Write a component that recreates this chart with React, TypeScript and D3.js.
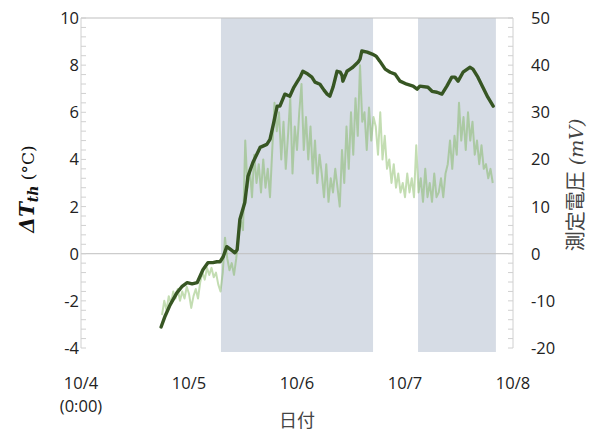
import React from "react";
import * as d3 from "d3";

// Chart frame
const W = 598;
const H = 432;

// Axis ticks and labels
const dayLabels = ["10/4", "10/5", "10/6", "10/7", "10/8"];
const leftTicks = [-4, -2, 0, 2, 4, 6, 8, 10];
const rightTicks = [-20, -10, 0, 10, 20, 30, 40, 50];

// Shaded periods, hours since 10/4 0:00
const shadedStart = [31.1, 74.9];
const shadedEnd = [64.9, 92.2];

// ΔT_th (°C), hours since 10/4 0:00
const tempHours = [
  17.8, 18.7, 19.8, 21.3, 22.4, 23.6, 24.7, 25.8, 26.4, 27.1, 28.2, 29.3, 30.2, 30.9,
  31.6, 32.4, 33.3, 34.2, 34.7, 35.3, 36.4, 37.1, 38.2, 39.8, 41.3, 42.0, 42.9, 43.6,
  44.2, 45.3, 46.4, 47.3, 48.0, 48.7, 49.3, 50.4, 51.3, 52.0, 53.1, 54.0, 54.7, 55.3,
  56.0, 56.9, 57.6, 58.0, 58.2, 59.1, 59.8, 60.4, 61.6, 62.0, 62.4, 63.6, 64.7, 65.6,
  66.4, 67.6, 68.7, 69.8, 70.9, 72.4, 73.8, 74.7, 75.3, 77.1, 78.0, 79.1, 80.2, 81.3,
  82.4, 83.1, 83.8, 84.9, 86.4, 87.1, 88.2, 89.3, 90.4, 91.6,
];
const tempValues = [
  -3.11, -2.64, -2.17, -1.66, -1.4, -1.23, -1.28, -1.23, -0.98, -0.68, -0.38, -0.38, -0.34, -0.34,
  -0.13, 0.3, 0.17, 0.04, 0.17, 1.45, 2.17, 3.28, 3.87, 4.51, 4.64, 4.85, 5.62, 6.26,
  6.26, 6.77, 6.68, 7.06, 7.28, 7.49, 7.74, 7.62, 7.49, 7.28, 7.19, 6.94, 6.77, 6.68,
  7.06, 7.74, 7.7, 7.57, 7.32, 7.74, 7.83, 7.91, 8.13, 8.26, 8.6, 8.55, 8.47, 8.38,
  8.17, 7.83, 7.7, 7.62, 7.32, 7.19, 7.11, 6.98, 7.11, 7.06, 6.89, 6.85, 6.77, 7.11,
  7.49, 7.49, 7.32, 7.7, 7.91, 7.83, 7.49, 7.06, 6.64, 6.26,
];

// Measured voltage (mV), logged every 30 minutes from 10/4 18:00
const voltStartHour = 18;
const voltStepHours = 0.5;
const voltValues = [
  -13, -10, -12, -9, -10.5, -8, -9.5, -7.5, -10, -8, -9.5, -7, -8.5, -11.5, -9, -7.5,
  -9.5, -6, -4, -5.5, -3, -4.5, -3, -5, -4, -6.5, -8, -4, 3.4, -1, -3.5, -2,
  -4.5, -1, 4, 7, 5, 24, 14, 18, 12, 21, 15, 19, 13, 20, 14, 18,
  12, 22, 32, 26, 30, 20, 28, 18, 25, 33, 17, 27, 22, 30, 36, 22,
  29, 20, 27, 17, 24, 15, 21, 17, 12, 19, 11, 16, 13, 18, 14, 10,
  22, 15, 27, 18, 30, 21, 33, 25, 40, 28, 30, 22, 31, 24, 29, 27,
  21, 30, 20, 25, 18, 20, 15, 19, 14, 17, 13, 15, 12, 17, 13, 16,
  12, 23, 13, 16, 11, 18, 12, 15, 11, 17, 12, 13, 16, 12, 17, 19,
  24, 18, 25, 21, 32, 24, 29, 22, 30, 24, 28, 21, 24, 19, 23, 18,
  19, 16, 18, 15,
];

const FONT = "'Open Sans', 'Noto Sans', sans-serif";
const CJK = "'Noto Sans CJK JP', 'Noto Sans CJK SC', sans-serif";
const SERIF = "'DejaVu Serif', 'Liberation Serif', serif";

export default function App() {
  const x = d3.scaleLinear().domain([0, 96]).range([81, 513]);
  const yL = d3.scaleLinear().domain([-4, 10]).range([348, 18]);
  const yR = d3.scaleLinear().domain([-20, 50]).range([348, 18]);

  const tempPts: [number, number][] = tempHours.map((h, i) => [h, tempValues[i]]);
  const voltPts: [number, number][] = voltValues.map((v, i) => [
    voltStartHour + i * voltStepHours,
    v,
  ]);

  const tempLine = d3
    .line<[number, number]>()
    .x((d) => x(d[0]))
    .y((d) => yL(d[1]));
  const voltLine = d3
    .line<[number, number]>()
    .x((d) => x(d[0]))
    .y((d) => yR(d[1]));

  const leftMinor = d3.range(-4, 10.001, 0.4);
  const rightMinor = d3.range(-20, 50.001, 2);

  return (
    <svg
      width={W}
      height={H}
      style={{ position: "absolute", left: 0, top: 0, background: "#fff" }}
    >
      {/* shaded periods */}
      {shadedStart.map((s, i) => (
        <rect
          key={i}
          x={x(s)}
          y={yL(10)}
          width={x(shadedEnd[i]) - x(s)}
          height={yL(-4) - yL(10) + 4}
          fill="#d6dce5"
        />
      ))}

      {/* frame: top edge, zero line, side axes */}
      <line x1={x(0)} x2={x(96)} y1={yL(10)} y2={yL(10)} stroke="#bfbfbf" strokeWidth={1} />
      <line x1={x(0)} x2={x(96)} y1={yL(0)} y2={yL(0)} stroke="#bfbfbf" strokeWidth={1} />
      <line x1={x(0)} x2={x(0)} y1={yL(10)} y2={yL(-4)} stroke="#d0d0d0" strokeWidth={1} />
      <line x1={x(96)} x2={x(96)} y1={yL(10)} y2={yL(-4)} stroke="#d0d0d0" strokeWidth={1} />
      {leftMinor.map((v, i) => (
        <line key={"lm" + i} x1={x(0)} x2={x(0) + 5} y1={yL(v)} y2={yL(v)} stroke="#d0d0d0" />
      ))}
      {rightMinor.map((v, i) => (
        <line key={"rm" + i} x1={x(96) - 5} x2={x(96)} y1={yR(v)} y2={yR(v)} stroke="#d0d0d0" />
      ))}

      {/* voltage series */}
      <path
        d={voltLine(voltPts) || ""}
        fill="none"
        stroke="#70ad47"
        strokeOpacity={0.42}
        strokeWidth={2}
        strokeLinejoin="round"
      />
      {/* temperature difference series */}
      <path
        d={tempLine(tempPts) || ""}
        fill="none"
        stroke="#375623"
        strokeWidth={3.4}
        strokeLinejoin="round"
        strokeLinecap="round"
      />

      {/* left tick labels */}
      {leftTicks.map((t) => (
        <text
          key={"l" + t}
          x={79}
          y={yL(t)}
          dy="0.36em"
          textAnchor="end"
          fontFamily={FONT}
          fontSize={16.5}
          fill="#222"
        >
          {t}
        </text>
      ))}
      {/* right tick labels */}
      {rightTicks.map((t) => (
        <text
          key={"r" + t}
          x={531}
          y={yR(t)}
          dy="0.36em"
          textAnchor="start"
          fontFamily={FONT}
          fontSize={16.5}
          fill="#222"
        >
          {t}
        </text>
      ))}
      {/* date labels */}
      {dayLabels.map((d, i) => (
        <text
          key={d}
          x={x(i * 24)}
          y={389}
          textAnchor="middle"
          fontFamily={FONT}
          fontSize={16.5}
          fill="#222"
        >
          {d}
        </text>
      ))}
      <text x={x(0)} y={412} textAnchor="middle" fontFamily={FONT} fontSize={16.5} fill="#222">
        (0:00)
      </text>

      {/* axis titles */}
      <text x={x(48)} y={427} textAnchor="middle" fontFamily={CJK} fontSize={18} fill="#444">
        日付
      </text>
      <g transform="translate(34,189) rotate(-90)">
        <text textAnchor="middle" fill="#111">
          <tspan fontFamily={SERIF} fontWeight="bold" fontStyle="italic" fontSize={20}>
            ΔT
          </tspan>
          <tspan
            fontFamily={SERIF}
            fontWeight="bold"
            fontStyle="italic"
            fontSize={14}
            dy={4}
          >
            th
          </tspan>
          <tspan fontFamily={SERIF} fontSize={17} dy={-4}>
            {" (°C)"}
          </tspan>
        </text>
      </g>
      <g transform="translate(583,185) rotate(-90)">
        <text textAnchor="middle" fill="#444">
          <tspan fontFamily={CJK} fontSize={20}>
            測定電圧
          </tspan>
          <tspan fontFamily={SERIF} fontStyle="italic" fontSize={19}>
            {" (mV)"}
          </tspan>
        </text>
      </g>
    </svg>
  );
}
